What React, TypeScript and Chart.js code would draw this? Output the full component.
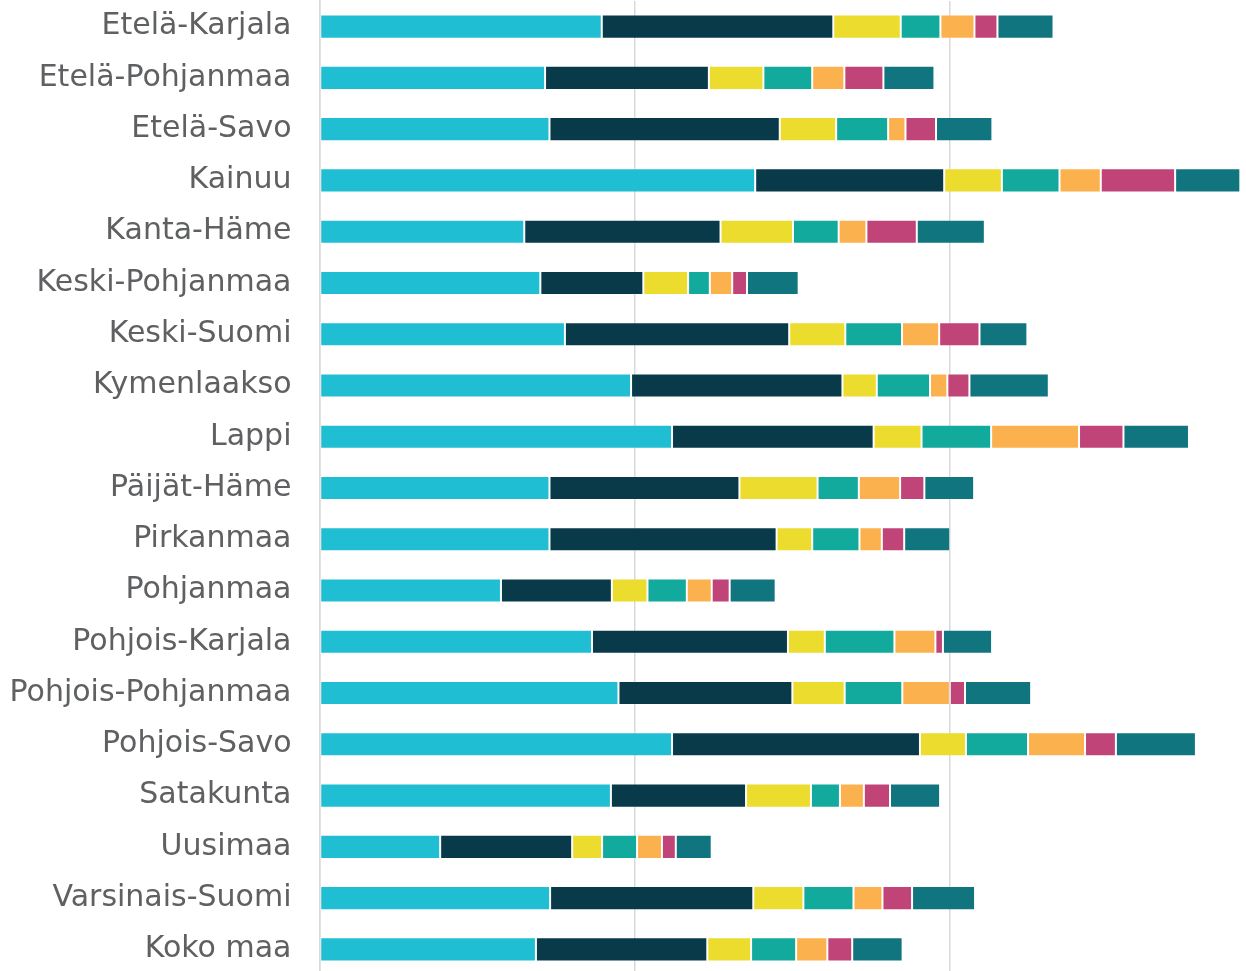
import React, { useEffect, useRef } from "react";
import { Chart, registerables } from "chart.js";

Chart.register(...registerables);

const categories = [
  "Etelä-Karjala",
  "Etelä-Pohjanmaa",
  "Etelä-Savo",
  "Kainuu",
  "Kanta-Häme",
  "Keski-Pohjanmaa",
  "Keski-Suomi",
  "Kymenlaakso",
  "Lappi",
  "Päijät-Häme",
  "Pirkanmaa",
  "Pohjanmaa",
  "Pohjois-Karjala",
  "Pohjois-Pohjanmaa",
  "Pohjois-Savo",
  "Satakunta",
  "Uusimaa",
  "Varsinais-Suomi",
  "Koko maa",
];

const series1 = [8.96, 7.16, 7.30, 13.83, 6.50, 7.01, 7.79, 9.89, 11.19, 7.30, 7.30, 5.76, 8.65, 9.49, 11.19, 9.25, 3.83, 7.32, 6.87];
const series2 = [7.35, 5.20, 7.31, 6.00, 6.23, 3.27, 7.12, 6.71, 6.40, 6.03, 7.21, 3.52, 6.22, 5.52, 7.87, 4.29, 4.19, 6.45, 5.44];
const series3 = [2.14, 1.73, 1.79, 1.83, 2.30, 1.42, 1.78, 1.09, 1.52, 2.48, 1.13, 1.13, 1.17, 1.66, 1.46, 2.06, 0.95, 1.59, 1.39];
const series4 = [1.26, 1.55, 1.65, 1.83, 1.45, 0.69, 1.80, 1.69, 2.21, 1.31, 1.50, 1.25, 2.21, 1.83, 1.97, 0.92, 1.11, 1.59, 1.43];
const series5 = [1.08, 1.02, 0.55, 1.31, 0.88, 0.71, 1.18, 0.55, 2.79, 1.31, 0.71, 0.79, 1.30, 1.51, 1.81, 0.76, 0.79, 0.92, 0.99];
const series6 = [0.73, 1.24, 0.97, 2.36, 1.60, 0.47, 1.28, 0.70, 1.41, 0.77, 0.71, 0.57, 0.24, 0.48, 0.98, 0.83, 0.44, 0.94, 0.79];
const series7 = [1.78, 1.62, 1.79, 2.07, 2.16, 1.64, 1.52, 2.52, 2.08, 1.58, 1.46, 1.46, 1.56, 2.10, 2.54, 1.59, 1.14, 2.00, 1.60];

const seriesList = [series1, series2, series3, series4, series5, series6, series7];
const seriesNames = ["Osa 1", "Osa 2", "Osa 3", "Osa 4", "Osa 5", "Osa 6", "Osa 7"];
const seriesColors = ["#20BED2", "#083A4A", "#EBDC2E", "#12AA9C", "#FBB24E", "#C14479", "#117580"];

const gridStep = 10;
const xMax = 29.41;

export default function App() {
  const ref = useRef<HTMLCanvasElement | null>(null);

  useEffect(() => {
    if (!ref.current) return;
    const chart = new Chart(ref.current, {
      type: "bar",
      data: {
        labels: categories,
        datasets: seriesList.map((data, i) => ({
          label: seriesNames[i],
          data,
          backgroundColor: seriesColors[i],
          borderColor: "rgba(255,255,255,0.15)",
          borderWidth: 1,
          borderSkipped: false,
          barPercentage: 0.47,
          categoryPercentage: 1,
        })),
      },
      options: {
        indexAxis: "y",
        animation: false,
        responsive: false,
        layout: { padding: { top: 1, right: 0, bottom: 0, left: 0 } },
        plugins: {
          legend: { display: false },
          tooltip: { enabled: false },
        },
        scales: {
          x: {
            stacked: true,
            min: 0,
            max: xMax,
            afterBuildTicks: (scale: any) => {
              scale.ticks = scale.ticks.filter((t: any) => Math.abs(t.value % gridStep) < 1e-9);
            },
            afterFit: (scale: any) => {
              scale.height = 0;
              scale.paddingLeft = 0;
              scale.paddingRight = 0;
            },
            ticks: { display: false, stepSize: gridStep },
            grid: { color: "#D9D9D9", lineWidth: 1.5, drawTicks: false },
            border: { display: false },
          },
          y: {
            stacked: true,
            afterFit: (scale: any) => {
              scale.width = 319.5;
              scale.paddingTop = 0;
              scale.paddingBottom = 0;
            },
            ticks: {
              color: "#5F6062",
              padding: 28,
              font: { family: "'DejaVu Sans', Verdana, sans-serif", size: 30 },
            },
            grid: { display: false, drawTicks: false },
            border: { display: true, color: "#D9D9D9", width: 1.5 },
          },
        },
      },
    });
    return () => chart.destroy();
  }, []);

  return (
    <div style={{ position: "fixed", left: 0, top: 0, width: 1246, height: 975, background: "#fff" }}>
      <canvas ref={ref} width={1246} height={975} style={{ display: "block" }} />
    </div>
  );
}
